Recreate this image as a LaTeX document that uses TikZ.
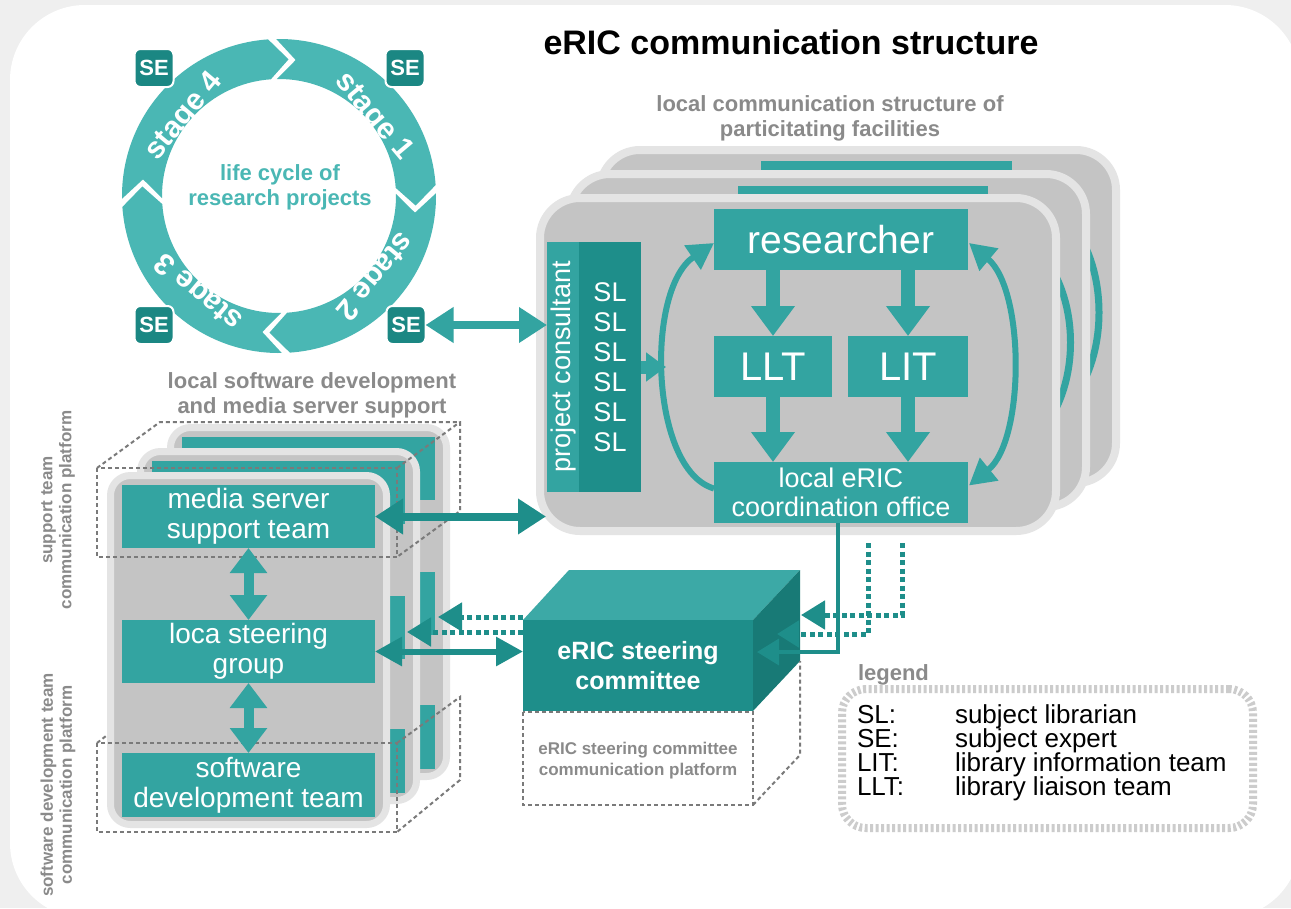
\documentclass[tikz,border=0pt]{standalone}
\usepackage{fontspec}
\setmainfont{Liberation Sans}
\usetikzlibrary{arrows.meta,calc}
\definecolor{ringc}{HTML}{4AB7B4}
\definecolor{boxc}{HTML}{33A4A1}
\definecolor{darkc}{HTML}{1E8E8A}
\definecolor{sec}{HTML}{1B8783}
\definecolor{sidec}{HTML}{187A76}
\definecolor{topc}{HTML}{3CA9A6}
\definecolor{panelc}{HTML}{C4C4C4}
\definecolor{rimc}{HTML}{E4E4E4}
\definecolor{greytxt}{HTML}{8A8A8A}
\definecolor{dashc}{HTML}{7A7A7A}
\definecolor{legc}{HTML}{CCCCCC}
\definecolor{bgc}{HTML}{EFEFEF}
\begin{document}
\begin{tikzpicture}[x=1pt,y=-1pt,
  every node/.style={inner sep=0pt,outer sep=0pt},
  tealbox/.style={fill=boxc,text=white,align=center,font=\fontsize{28}{30}\selectfont},
  sebox/.style={fill=sec,draw=white,line width=2pt,rounded corners=6pt,minimum width=39pt,minimum height=38pt,text=white,font=\bfseries\fontsize{22}{24}\selectfont},
  stagetxt/.style={text=white,font=\bfseries\fontsize{30}{32}\selectfont},
  rpanel/.style={fill=panelc,draw=rimc,line width=8pt,rounded corners=40pt},
  lpanel/.style={fill=panelc,draw=rimc,line width=7pt,rounded corners=20pt},
  greylabel/.style={text=greytxt,align=center,font=\bfseries\fontsize{22}{25}\selectfont},
  sidelabel/.style={text=greytxt,align=center,rotate=90,font=\bfseries\fontsize{17}{19}\selectfont},
  dashbox/.style={draw=dashc,line width=2pt,dash pattern=on 4pt off 3pt},
  dotline/.style={draw=darkc,line width=5pt,dash pattern=on 5pt off 3.5pt}
]
\useasboundingbox (0,0) rectangle (1291,908);
\fill[bgc] (0,0) rectangle (1291,908);
\fill[white,rounded corners=75pt] (10,5) rectangle (1300,918);

% title
\node[font=\bfseries\fontsize{34}{36}\selectfont] (title) at (791,42) {eRIC communication structure};

% life cycle ring
\begin{scope}[shift={(279,196)}]
\foreach \s in {-89,1,91,181}{
  \pgfmathsetmacro\ta{\s-2}
  \pgfmathsetmacro\tb{\s+85}
  \pgfmathsetmacro\tc{\s+93}
  \pgfmathsetmacro\td{\s+6}
  \fill[ringc] (\ta:157) arc[start angle=\ta,end angle=\tb,radius=157]
     -- (\tc:137) -- (\tb:117)
     arc[start angle=\tb,end angle=\ta,radius=117]
     -- (\td:137) -- cycle;
}
\node[stagetxt,rotate=-50] (st1) at (-40:123) {stage 1};
\node[stagetxt,rotate=-130] (st2) at (40:123) {stage 2};
\node[stagetxt,rotate=-220] (st3) at (130:123) {stage 3};
\node[stagetxt,rotate=50] (st4) at (-140:123) {stage 4};
\end{scope}
\node[text=ringc,align=center,font=\bfseries\fontsize{22}{25}\selectfont] (lcyc) at (280,187) {life cycle of\\research projects};
\node[sebox] (se1) at (405,68) {SE};
\node[sebox] (se2) at (406,325) {SE};
\node[sebox] (se3) at (154,325) {SE};
\node[sebox] (se4) at (154,68) {SE};

% right structure
\node[greylabel] (sub1) at (830,118) {local communication structure of\\particitating facilities};
\draw[rpanel] (600,150) rectangle (1116,483);
\fill[boxc] (761,161) rectangle (1012,200);
\draw[boxc,line width=7pt] (1072,225) .. controls (1108,270) and (1108,355) .. (1072,400);
\draw[rpanel] (570,174) rectangle (1086,507);
\fill[boxc] (738,186) rectangle (988,215);
\draw[boxc,line width=7pt] (1042,255) .. controls (1080,300) and (1080,385) .. (1042,430);
\draw[rpanel] (540,198) rectangle (1056,531);

\node[tealbox,minimum width=254pt,minimum height=61pt,font=\fontsize{39}{40}\selectfont] (res) at (841,239.5) {researcher};
\node[tealbox,minimum width=118pt,minimum height=61pt,font=\fontsize{40}{40}\selectfont] (llt) at (773,366.5) {LLT};
\node[tealbox,minimum width=120pt,minimum height=61pt,font=\fontsize{40}{40}\selectfont] (lit) at (908,366.5) {LIT};
\node[tealbox,minimum width=254pt,minimum height=61pt,font=\fontsize{27}{29}\selectfont] (coord) at (841,492.5) {local eRIC\\coordination office};
\node[fill=boxc,minimum width=32pt,minimum height=250pt] (pc) at (563,367) {};
\node[rotate=90,text=white,font=\fontsize{27}{28}\selectfont] (pctxt) at (564,367) {project consultant};
\node[fill=darkc,minimum width=62pt,minimum height=250pt,text=white,align=center,font=\fontsize{27}{30}\selectfont] (sl) at (610,367) {SL\\SL\\SL\\SL\\SL\\SL};

\draw[boxc,line width=14pt,-{Triangle[length=30pt,width=42pt]}] (res.south -| llt.north) -- (llt.north);
\draw[boxc,line width=14pt,-{Triangle[length=30pt,width=42pt]}] (res.south -| lit.north) -- (lit.north);
\draw[boxc,line width=14pt,-{Triangle[length=30pt,width=42pt]}] (llt.south) -- (coord.north -| llt.south);
\draw[boxc,line width=14pt,-{Triangle[length=30pt,width=42pt]}] (lit.south) -- (coord.north -| lit.south);
\draw[boxc,line width=6pt,-{Triangle[length=26pt,width=28pt]}] ($(coord.west)+(0,-4)$) .. controls (650,470) and (645,290) .. ($(res.west)+(0,3.5)$);
\draw[boxc,line width=6pt,{Triangle[length=26pt,width=28pt]}-{Triangle[length=26pt,width=28pt]}] ($(res.east)+(1,3.5)$) .. controls (1025,290) and (1025,440) .. ($(coord.east)+(1,-7)$);
\coordinate (arcpt) at (666,367);
\draw[boxc,line width=13pt,-{Triangle[length=20pt,width=28pt]}] (sl.east) -- (arcpt);

% left structure
\node[greylabel] (sub2) at (312,395) {local software development\\and media server support};
\draw[lpanel] (170.5,427.5) rectangle (446.5,776.5);
\fill[boxc] (182,437) rectangle (435,500);
\fill[boxc] (182,572) rectangle (435,635);
\fill[boxc] (182,705) rectangle (435,769);
\draw[lpanel] (140.5,451.5) rectangle (416.5,800.5);
\fill[boxc] (152,461) rectangle (405,524);
\fill[boxc] (152,596) rectangle (405,659);
\fill[boxc] (152,729) rectangle (405,793);
\draw[lpanel] (110.5,475.5) rectangle (386.5,824.5);
\node[tealbox,minimum width=253pt,minimum height=63pt] (media) at (248.5,516.5) {media server\\support team};
\node[tealbox,minimum width=253pt,minimum height=63pt] (lsg) at (248.5,651.5) {loca steering\\group};
\node[tealbox,minimum width=253pt,minimum height=64pt] (sdt) at (248.5,785) {software\\development team};

\draw[dashbox] (97,468) rectangle (397,557);
\draw[dashbox] (97,468) -- (160,422) -- (460,422) -- (460,511) -- (397,557);
\draw[dashbox] (397,468) -- (460,422);
\draw[dashbox] (97,743) rectangle (397,832);
\draw[dashbox] (97,743) -- (106,736);
\draw[dashbox] (397,743) -- (460,697) -- (460,780) -- (397,832);

\draw[boxc,line width=10pt,{Triangle[length=25pt,width=36pt]}-{Triangle[length=25pt,width=36pt]}] (media.south) -- (lsg.north);
\draw[boxc,line width=10pt,{Triangle[length=25pt,width=36pt]}-{Triangle[length=25pt,width=36pt]}] (lsg.south) -- (sdt.north);

\node[sidelabel] (stlab) at (58,510) {support team\\communication platform};
\node[sidelabel] (sdlab) at (58,785) {software development team\\communication platform};

% connections
\draw[boxc,line width=8pt,{Triangle[length=28pt,width=34pt]}-{Triangle[length=28pt,width=34pt]}] (se2.east) -- (se2.east -| pc.west);
\coordinate (rpin) at (546,516.5);
\draw[darkc,line width=8pt,{Triangle[length=28pt,width=34pt]}-{Triangle[length=28pt,width=34pt]}] (media.east) -- (rpin);

% steering committee
\fill[topc] (523,620) -- (569,570) -- (800,570) -- (753,620) -- cycle;
\fill[sidec] (753,620) -- (800,570) -- (800,661) -- (753,711) -- cycle;
\node[fill=darkc,minimum width=230pt,minimum height=91pt,text=white,align=center,font=\bfseries\fontsize{25}{30}\selectfont] (esc) at (638,665.5) {eRIC steering\\committee};
\draw[dashbox] (523,712) rectangle (753,805);
\draw[dashbox] (753,805) -- (800,755) -- (800,661);
\node[text=greytxt,align=center,font=\bfseries\fontsize{17}{21}\selectfont] (escp) at (638,761) {eRIC steering committee\\communication platform};

\draw[darkc,line width=6pt,{Triangle[length=27pt,width=28pt]}-{Triangle[length=27pt,width=28pt]}] (lsg.east) -- (lsg.east -| esc.west);
\coordinate (bstrip) at (438,617);
\coordinate (mstrip) at (407,632);
\draw[dotline,-{Triangle[length=24pt,width=28pt]}] (esc.west |- bstrip) -- (bstrip);
\draw[dotline,-{Triangle[length=24pt,width=28pt]}] (esc.west |- mstrip) -- (mstrip);
\coordinate (dA) at (902,543);
\coordinate (dB) at (868,543);
\coordinate (sideR) at (801,615);
\coordinate (sideM) at (777,634);
\coordinate (sideL) at (757,652);
\draw[dotline,-{Triangle[length=24pt,width=28pt]}] (dA) |- (sideR);
\draw[dotline,-{Triangle[length=22pt,width=26pt]}] (dB) |- (sideM);
\draw[darkc,line width=3.5pt,-{Triangle[length=22pt,width=26pt]}] ($(coord.south)+(-3,0)$) |- (sideL);

% legend
\node[text=greytxt,font=\bfseries\fontsize{22}{24}\selectfont,anchor=base west] (legt) at (858,680) {legend};
\node[draw=legc,line width=8pt,dash pattern=on 3pt off 2.5pt,rounded corners=24pt,minimum width=411pt,minimum height=139pt] (leg) at (1047.5,758.5) {};
\foreach \n/\a/\b/\yy in {1/SL:/subject librarian/723,2/SE:/subject expert/747,3/LIT:/library information team/771,4/LLT:/library liaison team/795}{
  \node[anchor=base west,font=\fontsize{26}{27}\selectfont] (lk\n) at (857,\yy) {\a};
  \node[anchor=base west,font=\fontsize{26}{27}\selectfont] (lv\n) at (955,\yy) {\b};
}
\end{tikzpicture}
\end{document}
